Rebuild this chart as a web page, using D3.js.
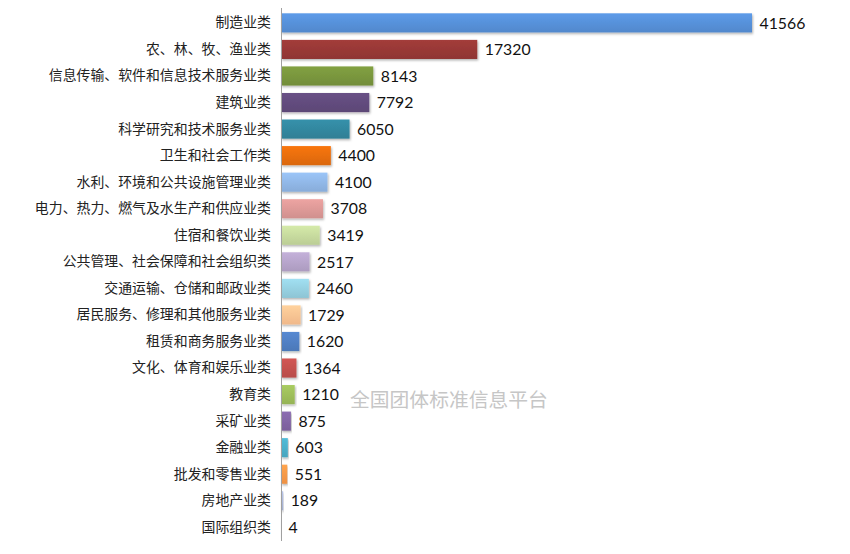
<!DOCTYPE html>
<html>
<head>
<meta charset="utf-8">
<script src="https://cdn.jsdelivr.net/npm/d3@7"></script>
<style>
  body { margin: 0; background: #fff; }
  svg { display: block; }
</style>
</head>
<body>
<svg id="chart" width="850" height="554"></svg>
<script>
// data
const categories = [
  "制造业类", "农、林、牧、渔业类", "信息传输、软件和信息技术服务业类", "建筑业类",
  "科学研究和技术服务业类", "卫生和社会工作类", "水利、环境和公共设施管理业类",
  "电力、热力、燃气及水生产和供应业类", "住宿和餐饮业类", "公共管理、社会保障和社会组织类",
  "交通运输、仓储和邮政业类", "居民服务、修理和其他服务业类", "租赁和商务服务业类",
  "文化、体育和娱乐业类", "教育类", "采矿业类", "金融业类", "批发和零售业类",
  "房地产业类", "国际组织类"
];
const counts = [41566, 17320, 8143, 7792, 6050, 4400, 4100, 3708, 3419, 2517,
  2460, 1729, 1620, 1364, 1210, 875, 603, 551, 189, 4];
const barColors = [
  "#558ed5", "#953735", "#77933c", "#604a7b", "#31859c", "#e46c0a", "#8eb4e3",
  "#d99694", "#c3d69b", "#b3a2c7", "#93cddd", "#fac090", "#4f7dc0", "#c0504d",
  "#9bbb59", "#8064a2", "#4bacc6", "#f79646", "#a9b6d8", "#c9c9d9"
];
const watermark = "全国团体标准信息平台";

const svg = d3.select("#chart");
const axisX = 281;

const x = d3.scaleLinear()
    .domain([0, d3.max(counts)])
    .range([axisX, 752]);

const y = d3.scaleBand()
    .domain(categories)
    .range([9.6, 540.6])
    .paddingInner(0.28)
    .paddingOuter(0.14);

// gradients, one per bar colour, light on top like the office chart style
const defs = svg.append("defs");
barColors.forEach(function(c, i) {
  const g = defs.append("linearGradient")
      .attr("id", "grad" + i)
      .attr("x1", 0).attr("y1", 0).attr("x2", 0).attr("y2", 1);
  g.append("stop").attr("offset", "0%").attr("stop-color", d3.color(c).brighter(0.25));
  g.append("stop").attr("offset", "100%").attr("stop-color", d3.color(c).darker(0.12));
});
const shadow = defs.append("filter").attr("id", "shadow")
    .attr("x", "-5%").attr("y", "-20%").attr("width", "115%").attr("height", "160%");
shadow.append("feDropShadow")
    .attr("dx", 1).attr("dy", 1.5).attr("stdDeviation", 1.2)
    .attr("flood-color", "#000").attr("flood-opacity", 0.3);

// watermark behind the marks
svg.append("text")
    .attr("x", 350)
    .attr("y", 407)
    .attr("font-family", "Noto Sans CJK SC")
    .attr("font-size", 19.8)
    .attr("fill", "#c6c6c6")
    .text(watermark);

// bars
svg.append("g")
    .selectAll("rect")
    .data(counts)
    .enter()
    .append("rect")
    .attr("x", axisX)
    .attr("y", function(d, i) { return y(categories[i]); })
    .attr("width", function(d) { return Math.max(0.6, x(d) - axisX); })
    .attr("height", y.bandwidth())
    .attr("fill", function(d, i) { return "url(#grad" + i + ")"; })
    .attr("filter", "url(#shadow)");

// value labels
svg.append("g")
    .selectAll("text")
    .data(counts)
    .enter()
    .append("text")
    .attr("x", function(d) { return x(d) + 7.5; })
    .attr("y", function(d, i) { return y(categories[i]) + y.bandwidth() / 2; })
    .attr("dy", "0.36em")
    .attr("font-family", "Lato, 'Open Sans', sans-serif")
    .attr("font-size", 15.8)
    .attr("fill", "#111")
    .text(function(d) { return d; });

// category axis
const axis = svg.append("g")
    .attr("transform", "translate(" + axisX + ",0)")
    .call(d3.axisLeft(y).tickSize(0).tickPadding(10));
axis.select(".domain")
    .attr("stroke", "#a0a0a0")
    .attr("d", "M0.5,8V541");
axis.selectAll("text")
    .attr("font-family", "'Noto Sans CJK SC', sans-serif")
    .attr("font-size", 13.9)
    .attr("fill", "#222");
</script>
</body>
</html>
